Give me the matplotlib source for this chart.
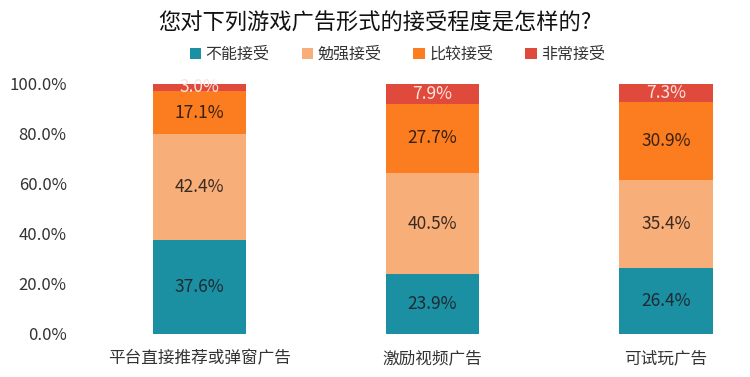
import matplotlib
matplotlib.use("Agg")
import matplotlib.pyplot as plt
import numpy as np
from matplotlib.ticker import PercentFormatter

plt.rcParams['font.family'] = ['Noto Sans CJK SC', 'DejaVu Sans']

categories = ["平台直接推荐或弹窗广告", "激励视频广告", "可试玩广告"]
series_names = ["不能接受", "勉强接受", "比较接受", "非常接受"]
buneng = [37.6, 23.9, 26.4]
mianqiang = [42.4, 40.5, 35.4]
bijiao = [17.1, 27.7, 30.9]
feichang = [3.0, 7.9, 7.3]
series = [buneng, mianqiang, bijiao, feichang]

colors = ["#1a90a2", "#f8ae79", "#fb7d1f", "#e04a3c"]
text_colors = ["#1f2a33", "#3a2a20", "#3a2010", "#fbe3df"]

fig = plt.figure(figsize=(7.5, 3.77), dpi=100)
ax = fig.add_axes([75/750, 1-334/377, 665/750, 250/377])

x = np.arange(len(categories))
bottom = np.zeros(len(categories))
for name, vals, c, tc in zip(series_names, series, colors, text_colors):
    vals = np.array(vals) / 100
    bars = ax.bar(x, vals, width=0.4, bottom=bottom, color=c, label=name)
    for xi, b, v in zip(x, bottom, vals):
        ax.text(xi, b + v/2, f"{v*100:.1f}%", ha="center", va="center",
                fontsize=12.5, color=tc)
    bottom += vals

ax.set_ylim(0, 1)
ax.set_xlim(-124/233, 2 + 74/233)
ax.set_yticks(np.arange(0, 1.01, 0.2))
ax.yaxis.set_major_formatter(PercentFormatter(1.0, decimals=1))
ax.set_xticks(x)
ax.set_xticklabels(categories)
ax.tick_params(length=0, labelsize=12, colors="#333333")
ax.tick_params(axis="y", pad=6)
ax.tick_params(axis="x", pad=12)
for s in ax.spines.values():
    s.set_visible(False)

fig.suptitle("您对下列游戏广告形式的接受程度是怎样的?", y=0.97, fontsize=16,
             fontweight="medium", color="#111111")
fig.legend(loc="center", bbox_to_anchor=(0.53, 0.855), ncol=4, frameon=False,
           fontsize=11.5, handlelength=0.7, handleheight=0.7, handletextpad=0.3,
           columnspacing=2.0, labelcolor="#333333")

fig.savefig("out.png", dpi=100)
